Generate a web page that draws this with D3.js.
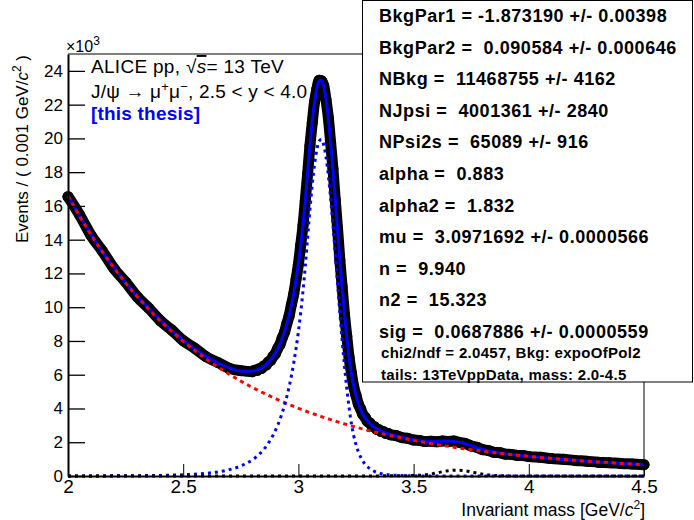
<!DOCTYPE html>
<html><head><meta charset="utf-8">
<script src="https://cdn.jsdelivr.net/npm/d3@7"></script>
<style>
body{margin:0;background:#fff}
svg{display:block}
text{font-family:"Liberation Sans",Arial,Helvetica,sans-serif}
</style>
</head><body>
<svg id="chart" width="694" height="520"></svg>
<script>
// ---------------- DATA ----------------
// invariant mass sampling points [GeV/c^2]
const massGrid = [
 2.00,2.05,2.10,2.15,2.20,2.25,2.30,2.35,2.40,2.45,2.50,2.55,2.60,2.65,2.70,2.75,
 2.80,2.81,2.82,2.83,2.84,2.85,2.86,2.87,2.88,2.89,2.90,2.91,2.92,2.93,2.94,2.95,2.96,2.97,2.98,2.99,
 3.00,3.01,3.02,3.03,3.04,3.05,3.06,3.07,3.08,3.09,3.10,3.11,3.12,3.13,3.14,3.15,3.16,3.17,3.18,3.19,
 3.20,3.21,3.22,3.23,3.24,3.25,3.26,3.27,3.28,3.29,3.30,3.31,3.32,3.33,3.34,3.35,3.36,3.37,3.38,3.39,3.40,
 3.425,3.45,3.475,3.50,3.525,3.55,3.575,3.60,3.625,3.65,3.675,3.70,3.725,3.75,3.775,3.80,3.825,3.85,3.875,3.90,3.925,3.95,3.975,4.00,
 4.05,4.10,4.15,4.20,4.25,4.30,4.35,4.40,4.45,4.50
];
// events per 0.001 GeV/c^2, in units of 10^3
const dataCounts = [
 16.55,15.48,14.25,13.31,12.28,11.49,10.62,9.95,9.21,8.65,8.02,7.57,7.06,6.73,6.38,6.24,
 6.18,6.27,6.25,6.36,6.37,6.52,6.57,6.76,6.85,7.09,7.25,7.56,7.79,8.19,8.52,9.04,9.50,10.17,10.80,11.67,
 12.54,13.68,14.84,16.34,17.90,19.56,20.91,22.15,22.92,23.45,23.42,23.12,22.27,21.22,19.73,18.19,16.36,14.64,12.79,11.19,
 9.57,8.28,7.02,6.11,5.30,4.78,4.27,3.97,3.63,3.47,3.23,3.14,2.96,2.92,2.77,2.74,2.63,2.62,2.52,2.52,2.44,
 2.39,2.27,2.23,2.13,2.11,2.04,2.06,2.03,2.08,2.05,2.07,1.98,1.93,1.78,1.70,1.56,1.51,1.40,1.38,1.29,1.28,1.22,1.21,1.15,
 1.11,1.03,0.99,0.92,0.88,0.82,0.79,0.74,0.71,0.67
];
const totalFit = [
 16.60,15.40,14.30,13.27,12.33,11.45,10.66,9.92,9.24,8.62,8.05,7.54,7.09,6.70,6.41,6.21,
 6.21,6.24,6.28,6.33,6.40,6.49,6.60,6.73,6.88,7.06,7.28,7.53,7.82,8.16,8.55,9.01,9.53,10.14,10.83,11.64,
 12.57,13.64,14.87,16.30,17.93,19.52,20.95,22.11,22.95,23.40,23.45,23.08,22.31,21.18,19.77,18.15,16.40,14.60,12.83,11.15,
 9.61,8.24,7.06,6.08,5.33,4.75,4.30,3.94,3.66,3.44,3.26,3.11,2.99,2.89,2.80,2.72,2.66,2.60,2.55,2.50,2.46,
 2.37,2.29,2.21,2.15,2.10,2.06,2.04,2.05,2.06,2.07,2.05,2.00,1.91,1.80,1.68,1.58,1.49,1.42,1.36,1.31,1.27,1.24,1.20,1.16,
 1.10,1.04,0.98,0.93,0.88,0.83,0.79,0.75,0.71,0.67
];
const bkgFit = [
 16.60,15.40,14.29,13.26,12.32,11.44,10.64,9.89,9.20,8.57,7.98,7.43,6.93,6.46,6.03,5.62,
 5.25,5.18,5.11,5.04,4.97,4.91,4.84,4.78,4.71,4.65,4.59,4.53,4.46,4.41,4.35,4.29,4.23,4.18,4.12,4.07,
 4.01,3.96,3.91,3.86,3.80,3.75,3.71,3.66,3.61,3.56,3.52,3.47,3.42,3.38,3.34,3.29,3.25,3.21,3.17,3.13,
 3.09,3.05,3.01,2.97,2.93,2.89,2.86,2.82,2.78,2.75,2.71,2.68,2.65,2.61,2.58,2.55,2.52,2.48,2.45,2.42,2.39,
 2.32,2.25,2.18,2.11,2.05,1.98,1.92,1.87,1.81,1.76,1.70,1.65,1.60,1.56,1.51,1.47,1.42,1.38,1.34,1.30,1.27,1.23,1.20,1.16,
 1.10,1.04,0.98,0.93,0.88,0.83,0.79,0.74,0.71,0.67
];
const jpsiFit = [
 0.003,0.004,0.005,0.007,0.009,0.013,0.018,0.025,0.035,0.050,0.072,0.106,0.159,0.242,0.375,0.593,
 0.956,1.055,1.166,1.290,1.428,1.583,1.756,1.951,2.169,2.415,2.692,3.004,3.357,3.755,4.206,4.719,5.300,5.960,6.714,7.574,
 8.555,9.677,10.964,12.444,14.124,15.770,17.241,18.453,19.338,19.842,19.933,19.606,18.881,17.802,16.435,14.854,13.145,11.390,9.663,8.025,
 6.527,5.196,4.052,3.111,2.396,1.854,1.440,1.124,0.880,0.692,0.546,0.432,0.344,0.274,0.219,0.176,0.142,0.114,0.093,0.075,0.061,
 0.038,0.023,0.015,0.009,0.006,0.004,0.003,0.002,0.001,0.001,0,0,0,0,0,0,0,0,0,0,0,0,0,0,
 0,0,0,0,0,0,0,0,0,0
];
const psi2sFit = [
 0,0,0,0,0,0,0,0,0,0,0,0,0,0,0,0,
 0,0,0,0,0,0,0,0,0,0,0,0,0,0,0,0,0,0,0,0,
 0,0,0,0,0,0,0,0,0,0,0,0,0,0,0,0,0,0,0,0,
 0,0,0,0,0,0,0,0,0,0,0,0,0,0,0,0,0.007,0.008,0.008,0.009,0.010,
 0.012,0.016,0.022,0.032,0.046,0.072,0.117,0.181,0.251,0.312,0.346,0.344,0.306,0.243,0.173,0.110,0.063,0.034,0.018,0.010,0.006,0.004,0.003,0.002,
 0.001,0,0,0,0,0,0,0,0,0
];
// axis ticks
const xMajorTicks = [2, 2.5, 3, 3.5, 4, 4.5];
const xTickLabels = ["2", "2.5", "3", "3.5", "4", "4.5"];
const yMajorTicks = [0,2,4,6,8,10,12,14,16,18,20,22,24];
// text
const xTitle = "Invariant mass [GeV/c²]";
const yTitle = "Events / ( 0.001 GeV/c² )";
const statsLines = [
 "BkgPar1 = -1.873190 +/- 0.00398",
 "BkgPar2 =  0.090584 +/- 0.000646",
 "NBkg =  11468755 +/- 4162",
 "NJpsi =  4001361 +/- 2840",
 "NPsi2s =  65089 +/- 916",
 "alpha =  0.883",
 "alpha2 =  1.832",
 "mu =  3.0971692 +/- 0.0000566",
 "n =  9.940",
 "n2 =  15.323",
 "sig =  0.0687886 +/- 0.0000559"
];
const statsFooter = [
 "chi2/ndf = 2.0457, Bkg: expoOfPol2",
 "tails: 13TeVppData, mass: 2.0-4.5"
];

// ---------------- DRAWING ----------------
const svg = d3.select("#chart");
const W = 694, H = 520;
const L = 68, R = 644, T = 54, B = 476;
const x = d3.scaleLinear().domain([2, 4.5]).range([L, R]);
const y = d3.scaleLinear().domain([0, 25]).range([B, T]);

svg.append("rect").attr("width", W).attr("height", H).attr("fill", "#fff");

const pts = (arr) => massGrid.map((m, i) => [m, arr[i]]);
const line = d3.line().x(d => x(d[0])).y(d => y(d[1])).curve(d3.curveMonotoneX);

const plot = svg.append("g");
// data band (markers)
plot.append("path").datum(pts(dataCounts)).attr("d", line)
  .attr("fill", "none").attr("stroke", "#000").attr("stroke-width", 11)
  .attr("stroke-linejoin", "round").attr("stroke-linecap", "round");
plot.selectAll("circle.pt").data(pts(dataCounts)).join("circle")
  .attr("class", "pt").attr("cx", d => x(d[0])).attr("cy", d => y(d[1]))
  .attr("r", 5.5).attr("fill", "#000");

// total fit
plot.append("path").datum(pts(totalFit)).attr("d", line)
  .attr("fill", "none").attr("stroke", "#0000ff").attr("stroke-width", 3);
// background
plot.append("path").datum(pts(bkgFit)).attr("d", line)
  .attr("fill", "none").attr("stroke", "#ff0000").attr("stroke-width", 3)
  .attr("stroke-dasharray", "4,4");
// J/psi signal
plot.append("path").datum(pts(jpsiFit)).attr("d", line)
  .attr("fill", "none").attr("stroke", "#0000ff").attr("stroke-width", 3)
  .attr("stroke-dasharray", "3,4");
// psi(2S) signal
plot.append("path").datum(pts(psi2sFit)).attr("d", line)
  .attr("fill", "none").attr("stroke", "#000").attr("stroke-width", 3)
  .attr("stroke-dasharray", "3,4");

// frame (top and right)
svg.append("path").attr("d", `M${L},${T}H${R}V${B}`).attr("fill", "none")
  .attr("stroke", "#000").attr("stroke-width", 1);

// axes
const xMinor = d3.range(20, 46).map(v => v / 10).filter(v => !xMajorTicks.includes(v));
const yMinor = d3.range(0, 51).map(v => v / 2).filter(v => !yMajorTicks.includes(v));

const gx = svg.append("g").attr("transform", `translate(0,${B})`);
gx.call(d3.axisBottom(x).tickValues(xMinor).tickSize(-6).tickFormat(""));
gx.call(d3.axisBottom(x).tickValues(xMajorTicks).tickSize(-12).tickSizeOuter(0).tickPadding(4)
  .tickFormat((d, i) => xTickLabels[i]));
gx.selectAll("path.domain").attr("stroke-width", 2);
gx.selectAll("line").attr("stroke", "#000");
gx.selectAll("text").attr("font-size", 19).attr("fill", "#000")
  .attr("font-family", "Liberation Sans, Arial, sans-serif").attr("dy", "0.7em");

const gy = svg.append("g").attr("transform", `translate(${L},0)`);
gy.call(d3.axisLeft(y).tickValues(yMinor).tickSize(-9).tickFormat(""));
gy.call(d3.axisLeft(y).tickValues(yMajorTicks).tickSize(-17).tickSizeOuter(0).tickPadding(5)
  .tickFormat(d => String(d)));
gy.selectAll("path.domain").attr("stroke-width", 2);
gy.selectAll("line").attr("stroke", "#000").attr("stroke-width", 1.3);
gy.selectAll("text").attr("font-size", 17).attr("fill", "#000")
  .attr("font-family", "Liberation Sans, Arial, sans-serif");

// exponent label
const ex = svg.append("text").attr("x", 66).attr("y", 52).attr("font-size", 16).attr("fill", "#000");
ex.append("tspan").text("×10");
ex.append("tspan").attr("dy", -7).attr("font-size", 12).text("3");

// axis titles
const xt = svg.append("text").attr("x", R + 1).attr("y", 516).attr("text-anchor", "end")
  .attr("font-size", 17.5).attr("fill", "#000");
xt.append("tspan").text("Invariant mass [GeV/");
xt.append("tspan").attr("font-style", "italic").text("c");
xt.append("tspan").attr("dy", -7).attr("font-size", 12).text("2");
xt.append("tspan").attr("dy", 7).text("]");

const yt = svg.append("text").attr("transform", `translate(28,${T + 1}) rotate(-90)`)
  .attr("text-anchor", "end").attr("font-size", 17).attr("fill", "#000");
yt.append("tspan").text("Events / ( 0.001 GeV/");
yt.append("tspan").attr("font-style", "italic").text("c");
yt.append("tspan").attr("dy", -7).attr("font-size", 12).text("2");
yt.append("tspan").attr("dy", 7).style("white-space", "pre").text(" )");

// legend texts
const t1 = svg.append("text").attr("x", 91).attr("y", 73).attr("font-size", 19).attr("fill", "#000")
  .attr("letter-spacing", 0.3).style("white-space", "pre");
t1.append("tspan").text("ALICE pp, √");
t1.append("tspan").attr("font-style", "italic").attr("text-decoration", "overline").text("s");
t1.append("tspan").text("= 13 TeV");

const t2 = svg.append("text").attr("x", 91).attr("y", 98).attr("font-size", 19).attr("fill", "#000")
  .attr("letter-spacing", 0.2).style("white-space", "pre");
t2.append("tspan").text("J/ψ → μ");
t2.append("tspan").attr("dy", -7).attr("font-size", 13).text("+");
t2.append("tspan").attr("dy", 7).text("μ");
t2.append("tspan").attr("dy", -7).attr("font-size", 13).text("−");
t2.append("tspan").attr("dy", 7).text(", 2.5 < y < 4.0");

svg.append("text").attr("x", 91).attr("y", 120).attr("font-size", 19).attr("letter-spacing", 0.2)
  .attr("font-weight", "bold").attr("fill", "#0000ff").text("[this thesis]");

// stats box
const box = svg.append("g");
box.append("rect").attr("x", 362.5).attr("y", 0.5).attr("width", 330).attr("height", 381.5)
  .attr("fill", "#fff").attr("stroke", "#000").attr("stroke-width", 1);
box.selectAll("text.stat").data(statsLines).join("text").attr("class", "stat")
  .attr("x", 379).attr("y", (d, i) => 22 + i * 31.6)
  .attr("font-size", 18).attr("font-weight", "bold").attr("letter-spacing", 0.55)
  .style("white-space", "pre").attr("fill", "#000").text(d => d);
box.selectAll("text.foot").data(statsFooter).join("text").attr("class", "foot")
  .attr("x", 381).attr("y", (d, i) => 358 + i * 22)
  .attr("font-size", 15).attr("font-weight", "bold").attr("letter-spacing", 0.3)
  .style("white-space", "pre").attr("fill", "#000").text(d => d);
</script>
</body></html>
